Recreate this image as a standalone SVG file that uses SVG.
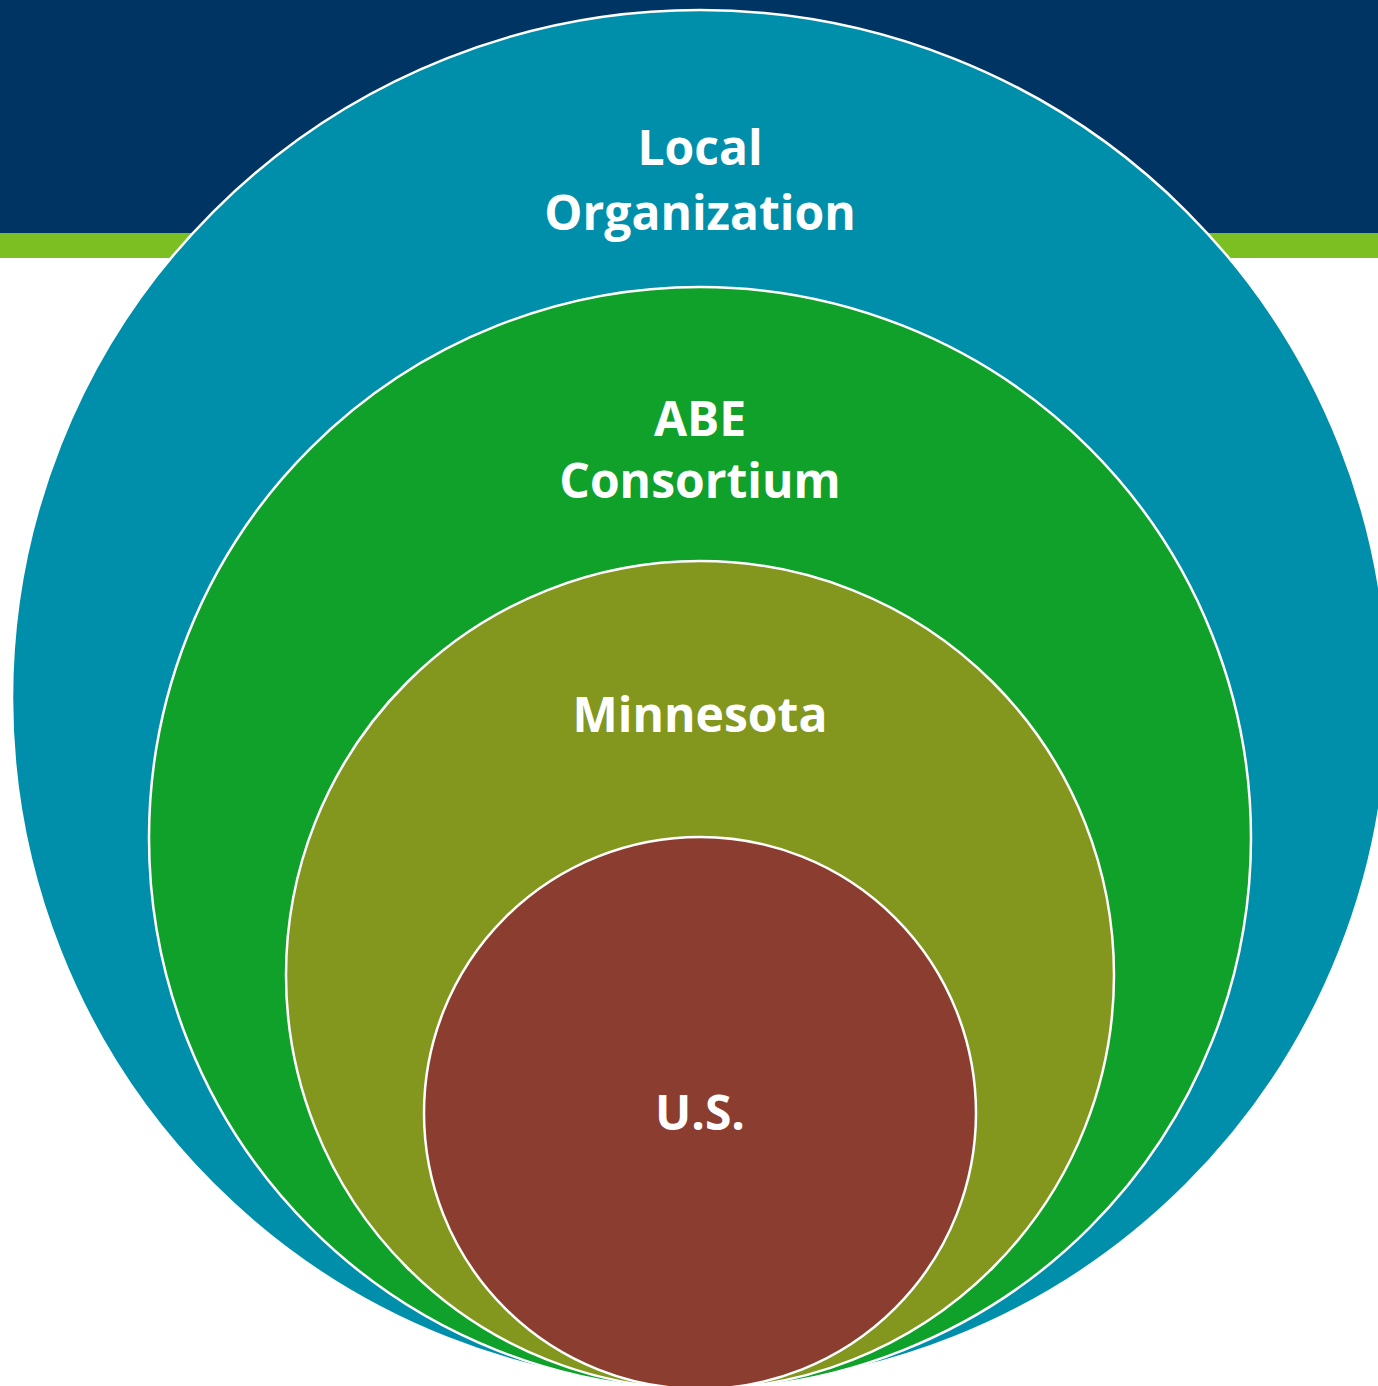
<svg xmlns="http://www.w3.org/2000/svg" width="1378" height="1386" viewBox="0 0 1378 1386">
<style>
.ring{stroke:#ffffff;stroke-width:2.5}
.lbl{font-family:"Open Sans","Liberation Sans",sans-serif;font-weight:bold;font-size:48px;fill:#ffffff;text-anchor:middle}
</style>
<rect x="0" y="0" width="1378" height="1386" fill="#ffffff"/>
<rect x="0" y="0" width="1378" height="233" fill="#003462"/>
<rect x="0" y="233" width="1378" height="25" fill="#7bbf22"/>
<g id="local">
<circle class="ring" cx="700" cy="698" r="688" fill="#008fab"/>
<text class="lbl" x="700" y="165">Local</text>
<text class="lbl" x="700" y="230">Organization</text>
</g>
<g id="abe">
<circle class="ring" cx="700" cy="838" r="551" fill="#0fa12a"/>
<text class="lbl" x="700" y="436">ABE</text>
<text class="lbl" x="700" y="498">Consortium</text>
</g>
<g id="minnesota">
<circle class="ring" cx="700" cy="975" r="414" fill="#83971e"/>
<text class="lbl" x="700" y="732">Minnesota</text>
</g>
<g id="us">
<circle class="ring" cx="700" cy="1113" r="276" fill="#8b3e2f"/>
<text class="lbl" x="700" y="1130">U.S.</text>
</g>
<g id="connectors"></g>
</svg>
